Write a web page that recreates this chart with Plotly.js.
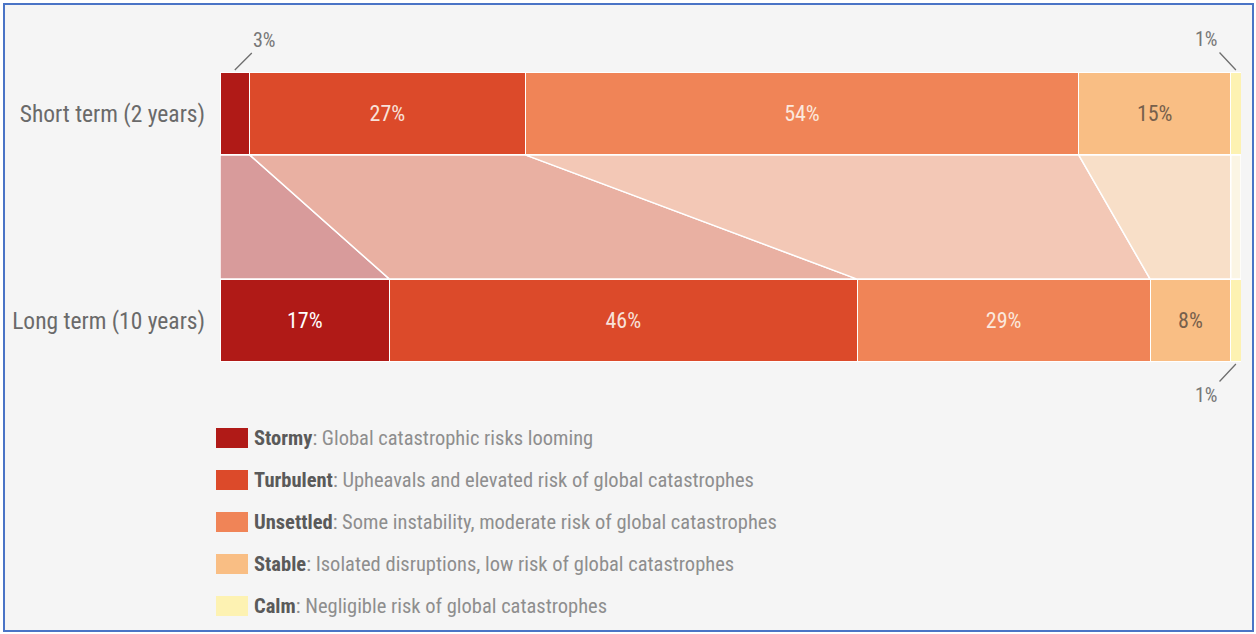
<!DOCTYPE html>
<html>
<head>
<meta charset="utf-8">
<script src="https://cdn.plot.ly/plotly-3.0.1.min.js"></script>
<style>
  html, body { margin: 0; padding: 0; background: #ffffff; }
  #chart { width: 1256px; height: 634px; }
</style>
</head>
<body>
<div id="chart"></div>
<script>
// ---- data ----
const categories = ['Stormy', 'Turbulent', 'Unsettled', 'Stable', 'Calm'];
const descriptions = [
  'Global catastrophic risks looming',
  'Upheavals and elevated risk of global catastrophes',
  'Some instability, moderate risk of global catastrophes',
  'Isolated disruptions, low risk of global catastrophes',
  'Negligible risk of global catastrophes'
];
const periods = ['Short term (2 years)', 'Long term (10 years)'];
const shortValues = [2.9, 27.0, 54.2, 14.9, 1.0];
const longValues = [16.6, 45.8, 28.7, 7.9, 1.0];
const shortLabels = ['3%', '27%', '54%', '15%', '1%'];
const longLabels = ['17%', '46%', '29%', '8%', '1%'];

// ---- styles ----
const barColors = ['#b01a17', '#dc4a2a', '#f08457', '#f9be84', '#fdf2b2'];
const bandColors = ['#d89b9b', '#e9b0a2', '#f3c8b6', '#f8dfc8', '#fbf5e4'];
const textColors = ['#ffffff', '#f8e2da', '#fbe8dd', '#76604c', '#76604c'];
const FONT = '"Liberation Sans Narrow", "Roboto Condensed", "Arial Narrow", "Liberation Sans", sans-serif';

const yShort = 1, yLong = 0, barW = 0.4;

// plot-area pixel geometry helpers (for legend / frame placement)
const L = 220, W = 1021, T = 30, H = 370;
const px = p => (p - L) / W;
const py = p => (T + H - p) / H;

const traces = [];

// connecting bands
let sAcc = 0, lAcc = 0;
categories.forEach((c, i) => {
  const s0 = sAcc, s1 = sAcc + shortValues[i];
  const l0 = lAcc, l1 = lAcc + longValues[i];
  sAcc = s1; lAcc = l1;
  traces.push({
    type: 'scatter', mode: 'lines',
    x: [s0, s1, l1, l0, s0],
    y: [yShort - barW / 2, yShort - barW / 2, yLong + barW / 2, yLong + barW / 2, yShort - barW / 2],
    fill: 'toself', fillcolor: bandColors[i],
    line: { color: '#ffffff', width: 1.5 },
    hoverinfo: 'skip', showlegend: false
  });
});

// stacked bars
categories.forEach((c, i) => {
  traces.push({
    type: 'bar', orientation: 'h', name: c,
    x: [shortValues[i], longValues[i]],
    y: [yShort, yLong],
    width: barW,
    marker: { color: barColors[i], line: { color: '#ffffff', width: 1 } },
    text: [shortValues[i] >= 5 ? shortLabels[i] : '', longValues[i] >= 5 ? longLabels[i] : ''],
    textposition: 'inside', insidetextanchor: 'middle',
    textfont: { family: FONT, size: 22, color: textColors[i] },
    hoverinfo: 'skip', showlegend: false
  });
});

const shapes = [];
const annotations = [];

// frame
shapes.push({
  type: 'rect', xref: 'paper', yref: 'paper', layer: 'below',
  x0: px(4), x1: px(1253), y0: py(631), y1: py(4),
  fillcolor: '#f5f5f5', line: { color: '#4a74c6', width: 2 }
});

// legend
categories.forEach((c, i) => {
  const cy = 438 + i * 42;
  shapes.push({
    type: 'rect', xref: 'paper', yref: 'paper',
    x0: px(216), x1: px(248), y0: py(cy + 10), y1: py(cy - 10),
    fillcolor: barColors[i], line: { width: 0 }
  });
  annotations.push({
    xref: 'paper', yref: 'paper', x: px(252), y: py(cy),
    xanchor: 'left', yanchor: 'middle', showarrow: false,
    text: '<b>' + c + '</b><span style="color:#8e8e8e">: ' + descriptions[i] + '</span>',
    font: { family: FONT, size: 20.5, color: '#5a5a5a' }
  });
});

// outside small labels with leader lines
const calmShortMid = 100 - shortValues[4] / 2;
const calmLongMid = 100 - longValues[4] / 2;
annotations.push({
  x: shortValues[0] / 2, y: yShort + barW / 2 + 0.01, xref: 'x', yref: 'y',
  text: shortLabels[0], showarrow: true, arrowhead: 0, arrowwidth: 1.3, arrowcolor: '#6e6e6e',
  ax: 30, ay: -30, font: { family: FONT, size: 20, color: '#777777' }
});
annotations.push({
  x: calmShortMid, y: yShort + barW / 2 + 0.01, xref: 'x', yref: 'y',
  text: shortLabels[4], showarrow: true, arrowhead: 0, arrowwidth: 1.3, arrowcolor: '#6e6e6e',
  ax: -29, ay: -31, font: { family: FONT, size: 20, color: '#777777' }
});
annotations.push({
  x: calmLongMid, y: yLong - barW / 2 - 0.01, xref: 'x', yref: 'y',
  text: longLabels[4], showarrow: true, arrowhead: 0, arrowwidth: 1.3, arrowcolor: '#6e6e6e',
  ax: -29, ay: 31, font: { family: FONT, size: 20, color: '#777777' }
});

const layout = {
  width: 1256, height: 634, autosize: false,
  margin: { l: L, r: 1256 - L - W, t: T, b: 634 - T - H, pad: 0 },
  paper_bgcolor: '#ffffff', plot_bgcolor: 'rgba(0,0,0,0)',
  barmode: 'stack', showlegend: false,
  xaxis: { range: [0, 100], visible: false, fixedrange: true },
  yaxis: {
    range: [-0.384, 1.4034], tickvals: [yShort, yLong], ticktext: periods,
    showgrid: false, zeroline: false, showline: false, ticks: '',
    ticklabelstandoff: 14,
    tickfont: { family: FONT, size: 23.5, color: '#6a6a6a' }, fixedrange: true
  },
  shapes: shapes,
  annotations: annotations
};

Plotly.newPlot('chart', traces, layout, { displayModeBar: false, staticPlot: true });
</script>
</body>
</html>
